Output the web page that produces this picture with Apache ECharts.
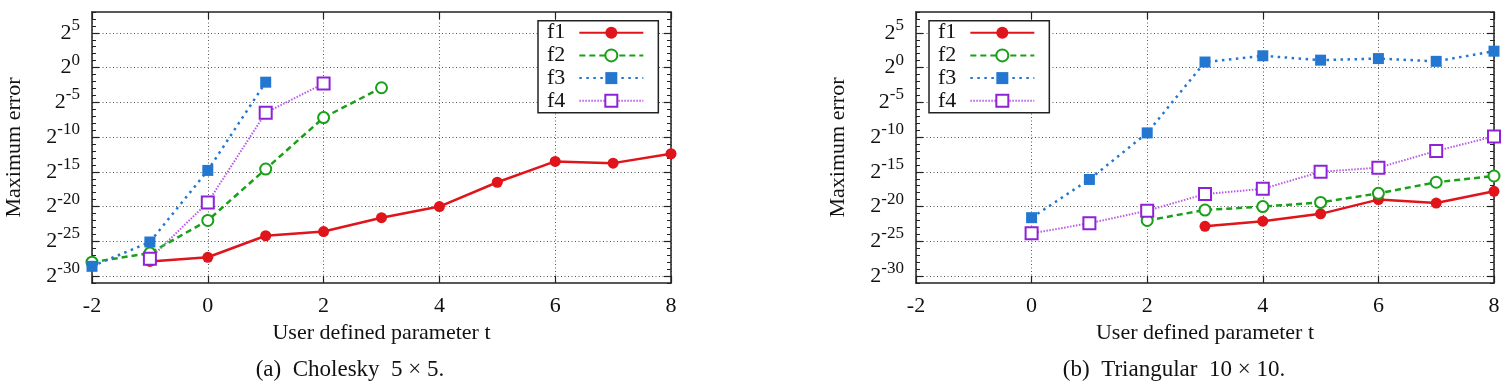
<!DOCTYPE html>
<html>
<head>
<meta charset="utf-8">
<title>Maximum error vs t</title>
<script src="https://cdn.jsdelivr.net/npm/echarts@6/dist/echarts.min.js"></script>
<style>
    html, body { margin: 0; padding: 0; background: #fff; }
    #chart { width: 1510px; height: 387px; }
</style>
</head>
<body>
<div id="chart"></div>
<script>
// t values on the x axis, y values are log2 of the maximum error
const tValues = [-2, -1, 0, 1, 2, 3, 4, 5, 6, 7, 8];
const yTicks = [-30, -25, -20, -15, -10, -5, 0, 5];
const seriesNames = ['f1', 'f2', 'f3', 'f4'];

// (a) Cholesky 5x5
const choleskyF1 = [null, -27.9, -27.3, -24.2, -23.6, -21.6, -20.0, -16.5, -13.5, -13.75, -12.4];
const choleskyF2 = [-28.0, -26.7, -22.0, -14.6, -7.2, -2.9, null, null, null, null, null];
const choleskyF3 = [-28.6, -25.1, -14.8, -2.1, null, null, null, null, null, null, null];
const choleskyF4 = [null, -27.5, -19.4, -6.5, -2.3, null, null, null, null, null, null];

// (b) Triangular 10x10
const triangularF1 = [null, null, null, null, null, -22.85, -22.1, -21.05, -19.0, -19.5, -17.8];
const triangularF2 = [null, null, null, null, -22.0, -20.5, -20.0, -19.4, -18.1, -16.5, -15.6];
const triangularF3 = [null, null, -21.6, -16.1, -9.4, 0.8, 1.7, 1.07, 1.3, 0.9, 2.36];
const triangularF4 = [null, null, -23.85, -22.4, -20.6, -18.2, -17.45, -15.0, -14.4, -12.0, -9.9];

const captions = ['(a)  Cholesky  5 × 5.', '(b)  Triangular  10 × 10.'];
const xName = 'User defined parameter t';
const yName = 'Maximum error';

const FONT = 'Liberation Serif';
const FRAME = '#222';

const looks = {
    f1: { color: '#e0141b', line: '#e0141b', symbol: 'circle', size: 11, type: 'solid', width: 2.5, border: 0 },
    f2: { color: '#18a018', line: '#18a018', symbol: 'emptyCircle', size: 11, type: [6, 4], width: 2.5, border: 2.5 },
    f3: { color: '#2477d1', line: '#2477d1', symbol: 'rect', size: 11, type: [2.5, 4.5], width: 2.5, border: 0 },
    f4: { color: '#8f22d6', line: '#bb5ae6', symbol: 'emptyRect', size: 12, type: [1.5, 1.5], width: 2, border: 2.5 }
};

function pairs(vals) {
    return tValues.map((t, i) => [t, vals[i]]).filter(p => p[1] !== null);
}

const panels = [
    { left: 92, width: 579, legendLeft: 538, data: [choleskyF1, choleskyF2, choleskyF3, choleskyF4], captionX: 350 },
    { left: 916, width: 578, legendLeft: 929, data: [triangularF1, triangularF2, triangularF3, triangularF4], captionX: 1174 }
];

const grid = [], xAxis = [], yAxis = [], series = [], legend = [], graphic = [];

panels.forEach((p, g) => {
    grid.push({ left: p.left, top: 12, width: p.width, height: 271 });

    // bottom axis with labels, top axis just for mirrored ticks
    xAxis.push({
        type: 'value', gridIndex: g, position: 'bottom', min: -2, max: 8, interval: 2,
        name: xName, nameLocation: 'middle', nameGap: 35,
        nameTextStyle: { fontFamily: FONT, fontSize: 22, color: '#111' },
        axisLine: { show: true, onZero: false, lineStyle: { color: FRAME, width: 1.5 } },
        axisTick: { show: true, inside: true, length: 7, lineStyle: { color: FRAME, width: 1.2 } },
        axisLabel: { fontFamily: FONT, fontSize: 22, color: '#111', margin: 12 },
        splitLine: { show: true, lineStyle: { color: '#555', width: 1, type: [1, 2.5] } }
    });
    xAxis.push({
        type: 'value', gridIndex: g, position: 'top', min: -2, max: 8, interval: 2,
        axisLine: { show: true, onZero: false, lineStyle: { color: FRAME, width: 1.5 } },
        axisTick: { show: true, inside: true, length: 7, lineStyle: { color: FRAME, width: 1.2 } },
        axisLabel: { show: false },
        splitLine: { show: false }
    });

    const base = yAxis.length;
    yAxis.push({
        type: 'value', gridIndex: g, position: 'left', min: -31, max: 8, interval: 1,
        name: yName, nameLocation: 'middle', nameGap: 67, nameRotate: 90,
        nameTextStyle: { fontFamily: FONT, fontSize: 22, color: '#111' },
        axisLine: { show: true, onZero: false, lineStyle: { color: FRAME, width: 1.5 } },
        axisTick: { show: true, inside: true, length: 7, customValues: yTicks, lineStyle: { color: FRAME, width: 1.2 } },
        axisLabel: {
            customValues: yTicks, margin: 12,
            formatter: v => '{b|2}{s|' + v + '}',
            rich: {
                b: { fontFamily: FONT, fontSize: 22, color: '#111', lineHeight: 22, verticalAlign: 'bottom' },
                s: { fontFamily: FONT, fontSize: 17, color: '#111', lineHeight: 17, padding: [0, 0, 10, 0], verticalAlign: 'bottom' }
            }
        },
        splitLine: { show: true, lineStyle: { color: '#555', width: 1, type: [1, 2.5] } }
    });
    // minor ticks left
    yAxis.push({
        type: 'value', gridIndex: g, position: 'left', min: -31, max: 8, interval: 1,
        axisLine: { show: false, onZero: false },
        axisTick: { show: true, inside: true, length: 4, lineStyle: { color: FRAME, width: 1 } },
        axisLabel: { show: false }, splitLine: { show: false }
    });
    // mirrored right side
    yAxis.push({
        type: 'value', gridIndex: g, position: 'right', min: -31, max: 8, interval: 1,
        axisLine: { show: true, onZero: false, lineStyle: { color: FRAME, width: 1.5 } },
        axisTick: { show: true, inside: true, length: 7, customValues: yTicks, lineStyle: { color: FRAME, width: 1.2 } },
        axisLabel: { show: false }, splitLine: { show: false }
    });
    yAxis.push({
        type: 'value', gridIndex: g, position: 'right', min: -31, max: 8, interval: 1,
        axisLine: { show: false, onZero: false },
        axisTick: { show: true, inside: true, length: 4, lineStyle: { color: FRAME, width: 1 } },
        axisLabel: { show: false }, splitLine: { show: false }
    });

    seriesNames.forEach((name, k) => {
        const lk = looks[name];
        series.push({
            name: name, type: 'line',
            xAxisIndex: g * 2, yAxisIndex: base,
            data: pairs(p.data[k]),
            symbol: lk.symbol, symbolSize: lk.size,
            lineStyle: { color: lk.line, width: lk.width, type: lk.type },
            itemStyle: { color: lk.color, borderColor: lk.color, borderWidth: lk.border },
            emphasis: { disabled: true },
            animation: false,
            z: 3 + k
        });
    });

    legend.push({
        left: p.legendLeft, top: 20.7, orient: 'vertical', align: 'right',
        data: seriesNames,
        itemWidth: 64, itemHeight: 15, itemGap: 0.7,
        padding: [1, 14, 1, 9],
        backgroundColor: '#fff', borderColor: FRAME, borderWidth: 1.5,
        selectedMode: false,
        textStyle: { fontFamily: FONT, fontSize: 22, lineHeight: 22, color: '#111', padding: [0, 9, 0, 0] }
    });

    graphic.push({
        type: 'text', x: p.captionX, y: 370,
        style: { text: captions[g], font: '23px "' + FONT + '"', fill: '#111', textAlign: 'center', textVerticalAlign: 'middle' }
    });
});

const chart = echarts.init(document.getElementById('chart'));
chart.setOption({
    animation: false,
    backgroundColor: '#fff',
    grid: grid,
    xAxis: xAxis,
    yAxis: yAxis,
    legend: legend,
    series: series,
    graphic: graphic
});
</script>
</body>
</html>
